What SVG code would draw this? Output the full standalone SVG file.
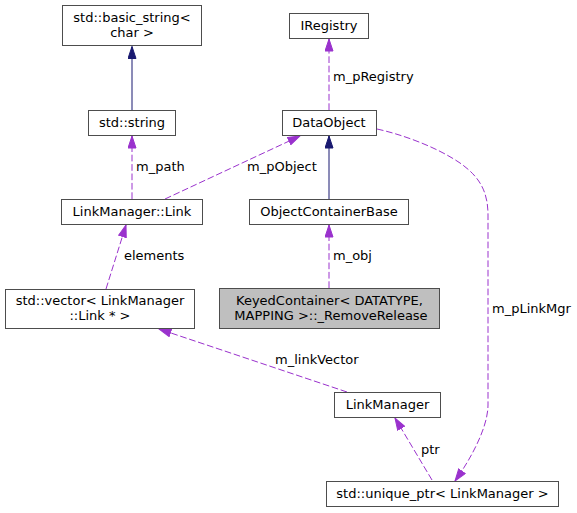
<svg xmlns="http://www.w3.org/2000/svg" width="577" height="513" viewBox="0 0 577 513">
<style>
.node rect{fill:#ffffff;stroke:#4d4d4d;stroke-width:1}
.node.hl rect{fill:#bfbfbf}
.node text,.lbl{font-family:"DejaVu Sans","Liberation Sans",sans-serif;font-size:13px;fill:#000000}
.node text{text-anchor:middle}
.dep{fill:none;stroke:#9a32cd;stroke-width:1;stroke-dasharray:6.7,2.7}
.inh{fill:none;stroke:#191970;stroke-width:1}
</style>
<defs>
<marker id="ap" markerUnits="userSpaceOnUse" markerWidth="14" markerHeight="10" refX="12.5" refY="4.5" orient="auto" viewBox="0 0 14 10">
<path d="M0.5,0.5 L12.5,4.5 L0.5,8.5 Z" fill="#9a32cd" stroke="#9a32cd" stroke-width="1"/>
</marker>
<marker id="ai" markerUnits="userSpaceOnUse" markerWidth="14" markerHeight="10" refX="12.5" refY="4.5" orient="auto" viewBox="0 0 14 10">
<path d="M0.5,0.5 L12.5,4.5 L0.5,8.5 Z" fill="#191970" stroke="#191970" stroke-width="1"/>
</marker>
</defs>
<g id="edges">
<path class="inh" d="M132,110 L132,46.5" marker-end="url(#ai)"/>
<path class="inh" d="M329,199 L329,136" marker-end="url(#ai)"/>
<path class="dep" d="M132,199 L132,136" marker-end="url(#ap)"/>
<path class="dep" d="M329,110 L329,39" marker-end="url(#ap)"/>
<path class="dep" d="M329,288 L329,225" marker-end="url(#ap)"/>
<path class="dep" d="M165,199 L300,136" marker-end="url(#ap)"/>
<path class="dep" d="M106,289 L126,225" marker-end="url(#ap)"/>
<path class="dep" d="M347,392 L159,329" marker-end="url(#ap)"/>
<path class="dep" d="M432,480 L395,418" marker-end="url(#ap)"/>
<path class="dep" d="M377,129 C400,134 435,146 460,163 C480,177 488,192 488,215 L488,405 C488,428 470,460 455,481" marker-end="url(#ap)"/>
<text class="lbl" x="136" y="171">m_path</text>
<text class="lbl" x="247" y="171">m_pObject</text>
<text class="lbl" x="333" y="81">m_pRegistry</text>
<text class="lbl" x="124" y="260">elements</text>
<text class="lbl" x="333" y="260">m_obj</text>
<text class="lbl" x="492" y="313">m_pLinkMgr</text>
<text class="lbl" x="275" y="364">m_linkVector</text>
<text class="lbl" x="421" y="454">ptr</text>
</g>
<g id="node-basic_string" class="node">
<rect x="62.5" y="5.5" width="139" height="40"/>
<text x="132" y="22">std::basic_string&lt;</text>
<text x="132" y="37">char &gt;</text>
</g>
<g id="node-string" class="node">
<rect x="88.5" y="110.5" width="87" height="25"/>
<text x="132" y="127">std::string</text>
</g>
<g id="node-link" class="node">
<rect x="61.5" y="199.5" width="141" height="25"/>
<text x="132" y="216">LinkManager::Link</text>
</g>
<g id="node-iregistry" class="node">
<rect x="289.5" y="13.5" width="79" height="25"/>
<text x="329" y="30">IRegistry</text>
</g>
<g id="node-dataobject" class="node">
<rect x="282.5" y="110.5" width="94" height="25"/>
<text x="329" y="127">DataObject</text>
</g>
<g id="node-objectcontainerbase" class="node">
<rect x="249.5" y="199.5" width="159" height="25"/>
<text x="329" y="216">ObjectContainerBase</text>
</g>
<g id="node-vector" class="node">
<rect x="5.5" y="289.5" width="189" height="39"/>
<text x="100" y="305">std::vector&lt; LinkManager</text>
<text x="100" y="320">::Link * &gt;</text>
</g>
<g id="node-keyedcontainer" class="node hl">
<rect x="219.5" y="288.5" width="220" height="40"/>
<text x="329.5" y="305">KeyedContainer&lt; DATATYPE,</text>
<text x="331" y="320">MAPPING &gt;::_RemoveRelease</text>
</g>
<g id="node-linkmanager" class="node">
<rect x="334.5" y="392.5" width="106" height="25"/>
<text x="387.5" y="409">LinkManager</text>
</g>
<g id="node-unique_ptr" class="node">
<rect x="326.5" y="481.5" width="232" height="25"/>
<text x="442.5" y="498">std::unique_ptr&lt; LinkManager &gt;</text>
</g>
</svg>
